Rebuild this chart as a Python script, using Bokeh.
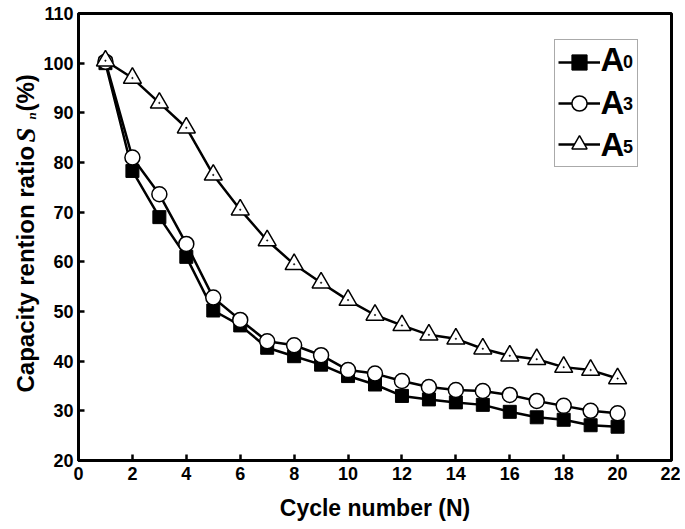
import numpy as np
from bokeh.plotting import figure
from bokeh.layouts import row
from bokeh.models import Label, Legend, LegendItem, FixedTicker
from bokeh.core.properties import value
from bokeh.embed import file_html
from bokeh.resources import INLINE

cycles = list(range(1, 21))
a0 = [100.0, 78.3, 69.0, 61.0, 50.2, 47.2, 42.7, 41.0, 39.3, 37.0,
      35.3, 33.0, 32.3, 31.7, 31.2, 29.8, 28.7, 28.2, 27.1, 26.8]
a3 = [100.3, 81.0, 73.6, 63.6, 52.8, 48.3, 44.0, 43.2, 41.2, 38.2,
      37.5, 36.0, 34.8, 34.2, 34.0, 33.2, 32.0, 31.0, 30.0, 29.5]
a5 = [100.5, 97.0, 92.0, 87.0, 77.5, 70.5, 64.3, 59.5, 55.8, 52.3,
      49.3, 47.2, 45.3, 44.5, 42.5, 41.1, 40.4, 38.8, 38.2, 36.5]
x_ticks = list(range(0, 23, 2))
y_ticks = list(range(20, 111, 10))
series_names = ["A", "A", "A"]
series_subs = ["0", "3", "5"]
ylabel_parts = ["Capacity rention ratio", "S", "n", "(%)"]

SANS = "Liberation Sans"
SERIF = "Liberation Serif"
H = 525
LW = 40
FTOP, FBOT = 13, 460   # frame top / bottom in page pixels

# ---------- helper strip carrying the composite y-axis title ----------
lab = figure(width=LW, height=H, x_range=(0, LW), y_range=(H - FBOT, H - FTOP),
             output_backend="svg", toolbar_location=None,
             x_axis_type=None, y_axis_type=None,
             min_border_left=0, min_border_right=0, min_border_top=FTOP, min_border_bottom=H - FBOT)
lab.grid.visible = False
lab.outline_line_color = None
ang = np.pi / 2
lab.text(x=[25], y=[H - 392], text=[ylabel_parts[0]], angle=ang,
         text_font=value(SANS), text_font_style="bold", text_font_size="24px",
         text_baseline="alphabetic", text_align="left", text_color="black")
lab.text(x=[25], y=[H - 142], text=[ylabel_parts[1]], angle=ang,
         text_font=value(SERIF), text_font_style="bold italic", text_font_size="27px",
         text_baseline="alphabetic", text_align="left", text_color="black")
lab.text(x=[30.5], y=[H - 119], text=[ylabel_parts[2]], angle=ang,
         text_font=value(SERIF), text_font_style="bold italic", text_font_size="13px",
         text_baseline="alphabetic", text_align="left", text_color="black")
lab.text(x=[25], y=[H - 111], text=[ylabel_parts[3]], angle=ang,
         text_font=value(SANS), text_font_style="bold", text_font_size="24px",
         text_baseline="alphabetic", text_align="left", text_color="black")

# ---------- main chart ----------
p = figure(width=680 - LW, height=H, x_range=(0, 22), y_range=(20, 110),
           output_backend="svg", toolbar_location=None,
           min_border_left=77 - LW, min_border_right=9, min_border_top=FTOP, min_border_bottom=H - FBOT)
p.grid.visible = False
p.background_fill_color = "white"
p.outline_line_color = "black"
p.outline_line_width = 3

for ax in (p.xaxis[0], p.yaxis[0]):
    ax.axis_line_width = 3
    ax.major_tick_in = 6
    ax.major_tick_out = 0
    ax.major_tick_line_width = 2.5
    ax.minor_tick_line_color = None
    ax.major_label_text_font = SANS
    ax.major_label_text_font_style = "bold"
    ax.major_label_text_font_size = "18px"
    ax.major_label_text_color = "black"

p.xaxis.ticker = FixedTicker(ticks=x_ticks)
p.yaxis.ticker = FixedTicker(ticks=y_ticks)
p.xaxis.major_label_standoff = 6
p.yaxis.major_label_standoff = 5
p.xaxis.axis_label = "Cycle number (N)"
p.xaxis.axis_label_text_font = SANS
p.xaxis.axis_label_text_font_style = "bold"
p.xaxis.axis_label_text_font_size = "23px"
p.xaxis.axis_label_text_color = "black"
p.xaxis.axis_label_standoff = 12

l0 = p.line(cycles, a0, line_color="black", line_width=2.5)
m0 = p.scatter(cycles, a0, marker="square", size=13, fill_color="black", line_color="black", line_width=1)
l3 = p.line(cycles, a3, line_color="black", line_width=2.5)
m3 = p.scatter(cycles, a3, marker="circle", size=15, fill_color="white", line_color="black", line_width=1.5)
l5 = p.line(cycles, a5, line_color="black", line_width=2.5)
m5 = p.scatter(cycles, a5, marker="triangle", size=18, fill_color="white", line_color="black", line_width=1.5)
d5 = p.scatter(cycles, a5, marker="circle", size=1.5, fill_color="black", line_color="black", line_width=0.5)

legend = Legend(items=[
    LegendItem(label=" ", renderers=[l0, m0]),
    LegendItem(label=" ", renderers=[l3, m3]),
    LegendItem(label=" ", renderers=[l5, m5]),
], location=(476, 293))
legend.label_text_font = SANS
legend.label_text_font_size = "20px"
legend.label_standoff = 0
legend.glyph_width = 42
legend.glyph_height = 38
legend.label_height = 38
legend.label_width = 34
legend.spacing = 3
legend.padding = 3
legend.margin = 0
legend.border_line_color = "#555555"
legend.border_line_width = 1
legend.background_fill_alpha = 0
p.add_layout(legend, "center")

for name, sub, yy in zip(series_names, series_subs, [100.7, 92.1, 83.6]):
    p.add_layout(Label(x=19.37, y=yy, text=name, text_font=SANS, text_font_style="bold",
                       text_font_size="33px", text_baseline="alphabetic", text_color="black"))
    p.add_layout(Label(x=20.2, y=yy - 0.3, text=sub, text_font=SANS, text_font_style="bold",
                       text_font_size="18px", text_baseline="alphabetic", text_color="black"))

layout = row(lab, p, spacing=0)
open("out.html", "w").write(file_html(layout, INLINE))
